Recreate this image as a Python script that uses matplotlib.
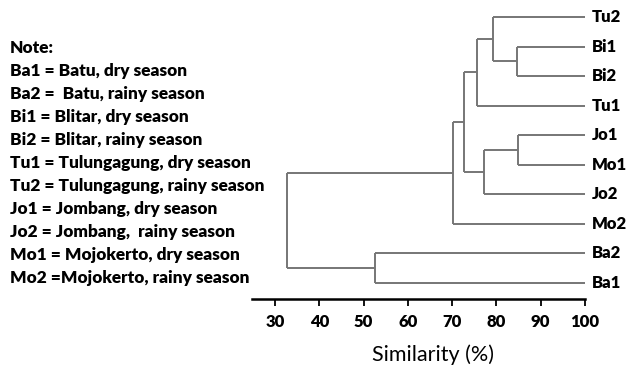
import matplotlib
matplotlib.use("Agg")
import matplotlib.pyplot as plt

# leaves from bottom to top
leaves = ["Ba1", "Ba2", "Mo2", "Jo2", "Mo1", "Jo1", "Tu1", "Bi2", "Bi1", "Tu2"]
# merges: (left, right, similarity %) ; new cluster named "c<i>" by its index here
merges = [
    ("Bi1", "Bi2", 84.7),
    ("Tu2", "c0", 79.2),
    ("c1", "Tu1", 75.6),
    ("Jo1", "Mo1", 84.9),
    ("c3", "Jo2", 77.2),
    ("c2", "c4", 72.7),
    ("c5", "Mo2", 70.2),
    ("Ba2", "Ba1", 52.6),
    ("c6", "c7", 32.7),
]
note_lines = [
    "Note:",
    "Ba1 = Batu, dry season",
    "Ba2 =  Batu, rainy season",
    "Bi1 = Blitar, dry season",
    "Bi2 = Blitar, rainy season",
    "Tu1 = Tulungagung, dry season",
    "Tu2 = Tulungagung, rainy season",
    "Jo1 = Jombang, dry season",
    "Jo2 = Jombang,  rainy season",
    "Mo1 = Mojokerto, dry season",
    "Mo2 =Mojokerto, rainy season",
]
xticks = [30, 40, 50, 60, 70, 80, 90, 100]

plt.rcParams["font.family"] = ["Lato", "DejaVu Sans"]
W, H = 632, 367
fig = plt.figure(figsize=(W / 100, H / 100), dpi=100)
ax = fig.add_axes([252 / W, (H - 299) / H, (585 - 252) / W, 299 / H])

pos = {name: (100.0, i) for i, name in enumerate(leaves)}
line_kw = dict(color="#767676", lw=1.4, solid_capstyle="butt")
for i, (a, b, s) in enumerate(merges):
    xa, ya = pos[a]
    xb, yb = pos[b]
    ax.plot([xa, s], [ya, ya], **line_kw)
    ax.plot([xb, s], [yb, yb], **line_kw)
    ax.plot([s, s], [ya, yb], **line_kw)
    pos["c%d" % i] = (s, (ya + yb) / 2)

for i, name in enumerate(leaves):
    ax.text(101.6, i, name, ha="left", va="center", fontsize=12,
            fontweight="heavy", clip_on=False)

ax.set_xlim(24.8, 100)
ax.set_ylim(-0.54, 9.575)
ax.set_xticks(xticks)
ax.set_xticklabels([str(t) for t in xticks], fontweight="heavy", fontsize=12)
ax.set_yticks([])
for sp in ["top", "left", "right"]:
    ax.spines[sp].set_visible(False)
ax.spines["bottom"].set_linewidth(1.8)
ax.tick_params(axis="x", direction="out", length=5, width=1.3, pad=6)
fig.text(433 / W, 1 - 355 / H, "Similarity (%)", ha="center", va="center",
         fontsize=15.5)

for k, line in enumerate(note_lines):
    fig.text(10 / W, 1 - (48 + k * 23.0) / H, line, ha="left", va="center",
             fontsize=12.4, fontweight="heavy")

fig.savefig("out.png", dpi=100)
